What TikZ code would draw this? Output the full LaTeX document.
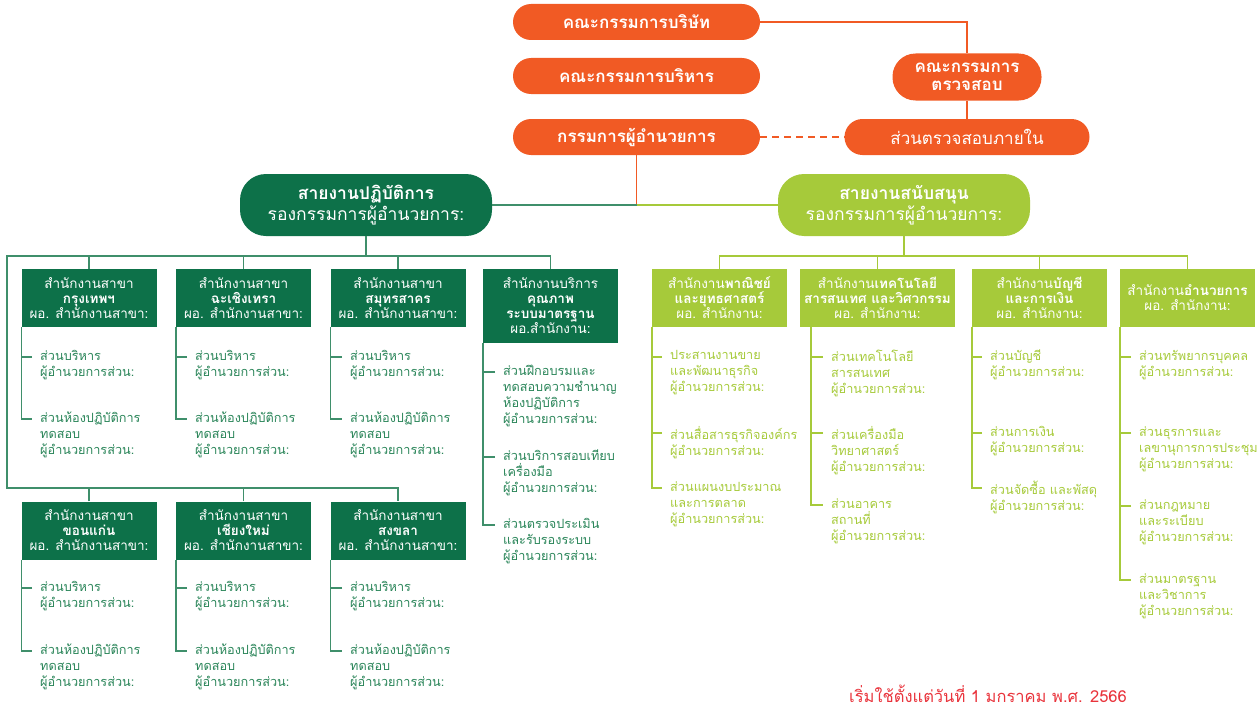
\documentclass[tikz,border=0pt]{standalone}
\usepackage{fontspec}
\setmainfont[Script=Thai]{Loma}
\usetikzlibrary{calc}
\definecolor{orng}{HTML}{F15A24}
\definecolor{dgreen}{HTML}{0D7149}
\definecolor{dline}{HTML}{3F8F6B}
\definecolor{dtext}{HTML}{2A8559}
\definecolor{lgreen}{HTML}{A6CA3A}
\definecolor{footred}{HTML}{E9343C}
\newcommand\tk[3]{\draw[#3] ($(#2.north west)+(-8,7)$) -- ($(#1 |- #2.north west)+(0,7)$);}
\newcommand\lastk[3]{\draw[#3] (#1) |- ($(#2.north west)+(-8,7)$);}
\begin{document}
\begin{tikzpicture}[x=1pt,y=-1pt,
  opill/.style={fill=orng, rounded corners=18pt, minimum height=36pt, minimum width=247pt, text=white, font=\fontsize{17}{19}\selectfont\bfseries, align=center, inner sep=2pt},
  gpill/.style={rounded corners=26pt, minimum height=62pt, minimum width=252pt, text=white, font=\fontsize{17.5}{21}\selectfont, align=center, inner sep=2pt},
  dbox/.style={fill=dgreen, text=white, minimum width=135pt, minimum height=58pt, font=\fontsize{13.5}{15}\selectfont, align=center, inner sep=2pt},
  lbox/.style={fill=lgreen, text=white, minimum width=135pt, minimum height=58pt, font=\fontsize{13.5}{15}\selectfont, align=center, inner sep=2pt},
  ditem/.style={text=dtext, font=\fontsize{12.7}{16}\selectfont, align=left, anchor=north west, inner sep=0pt, execute at begin node=\strut},
  litem/.style={text=lgreen, font=\fontsize{12.7}{16}\selectfont, align=left, anchor=north west, inner sep=0pt, execute at begin node=\strut},
  oline/.style={draw=orng, line width=1.5pt},
  dl/.style={draw=dline, line width=1.6pt},
  ll/.style={draw=lgreen, line width=1.6pt}]
\useasboundingbox (0,0) rectangle (1260,709);

% top
\node[opill] (board) at (636.5,22) {คณะกรรมการบริษัท};
\node[opill] (exec) at (636.5,76) {คณะกรรมการบริหาร};
\node[opill] (md) at (636.5,137) {กรรมการผู้อำนวยการ};
\node[opill, minimum width=149pt, minimum height=47pt, rounded corners=23pt, font=\fontsize{17}{18}\selectfont\bfseries] (audit) at (967,77) {คณะกรรมการ\\ตรวจสอบ};
\node[opill, minimum width=245pt, font=\fontsize{17}{19}\selectfont] (ia) at (967,137) {ส่วนตรวจสอบภายใน};
\draw[oline] (board.east) -| (audit.north);
\draw[oline] (audit.south) -- (ia.north);
\draw[oline, dash pattern=on 7pt off 5pt] (md.east) -- (ia.west);

\node[gpill, fill=dgreen] (ops) at (366,205) {\textbf{สายงานปฏิบัติการ}\\รองกรรมการผู้อำนวยการ:};
\node[gpill, fill=lgreen] (sup) at (904,205) {\textbf{สายงานสนับสนุน}\\รองกรรมการผู้อำนวยการ:};
\coordinate (j) at (636.5,205);
\draw[oline] (md.south) -- (j);
\draw[dl] (j) -- (ops.east);
\draw[ll] (j) -- (sup.west);

% left boxes
\node[dbox] (b1) at (89,298) {สำนักงานสาขา\\\textbf{กรุงเทพฯ}\\ผอ. สำนักงานสาขา:};
\node[dbox] (b2) at (243.5,298) {สำนักงานสาขา\\\textbf{ฉะเชิงเทรา}\\ผอ. สำนักงานสาขา:};
\node[dbox] (b3) at (398,298) {สำนักงานสาขา\\\textbf{สมุทรสาคร}\\ผอ. สำนักงานสาขา:};
\node[dbox, minimum height=74pt] (b4) at (550.5,306) {สำนักงานบริการ\\\textbf{คุณภาพ}\\\textbf{ระบบมาตรฐาน}\\ผอ.สำนักงาน:};
\node[dbox] (b5) at (89,530.5) {สำนักงานสาขา\\\textbf{ขอนแก่น}\\ผอ. สำนักงานสาขา:};
\node[dbox] (b6) at (243.5,530.5) {สำนักงานสาขา\\\textbf{เชียงใหม่}\\ผอ. สำนักงานสาขา:};
\node[dbox] (b7) at (398,530.5) {สำนักงานสาขา\\\textbf{สงขลา}\\ผอ. สำนักงานสาขา:};

\coordinate (lh) at (366,256);
\coordinate (lb) at (7,488);
\draw[dl] (ops.south) -- (lh);
\draw[dl] (b4.north) -- (b4.north |- lh) -| (lb) -| (b7.north);
\draw[dl] (b1.north) -- (b1.north |- lh);
\draw[dl] (b2.north) -- (b2.north |- lh);
\draw[dl] (b3.north) -- (b3.north |- lh);
\draw[dl] (b5.north) -- (b5.north |- lb);
\draw[dl] (b6.north) -- (b6.north |- lb);

% left items
\node[ditem] (k11) at (40,350) {ส่วนบริหาร\\ผู้อำนวยการส่วน:};
\node[ditem] (k12) at (40,412) {ส่วนห้องปฏิบัติการ\\ทดสอบ\\ผู้อำนวยการส่วน:};
\node[ditem] (k21) at (195,350) {ส่วนบริหาร\\ผู้อำนวยการส่วน:};
\node[ditem] (k22) at (195,412) {ส่วนห้องปฏิบัติการ\\ทดสอบ\\ผู้อำนวยการส่วน:};
\node[ditem] (k31) at (350,350) {ส่วนบริหาร\\ผู้อำนวยการส่วน:};
\node[ditem] (k32) at (350,412) {ส่วนห้องปฏิบัติการ\\ทดสอบ\\ผู้อำนวยการส่วน:};
\node[ditem] (k41) at (503,365) {ส่วนฝึกอบรมและ\\ทดสอบความชำนาญ\\ห้องปฏิบัติการ\\ผู้อำนวยการส่วน:};
\node[ditem] (k42) at (503,450) {ส่วนบริการสอบเทียบ\\เครื่องมือ\\ผู้อำนวยการส่วน:};
\node[ditem] (k43) at (503,518) {ส่วนตรวจประเมิน\\และรับรองระบบ\\ผู้อำนวยการส่วน:};
\node[ditem] (k51) at (40,581) {ส่วนบริหาร\\ผู้อำนวยการส่วน:};
\node[ditem] (k52) at (40,644) {ส่วนห้องปฏิบัติการ\\ทดสอบ\\ผู้อำนวยการส่วน:};
\node[ditem] (k61) at (195,581) {ส่วนบริหาร\\ผู้อำนวยการส่วน:};
\node[ditem] (k62) at (195,644) {ส่วนห้องปฏิบัติการ\\ทดสอบ\\ผู้อำนวยการส่วน:};
\node[ditem] (k71) at (350,581) {ส่วนบริหาร\\ผู้อำนวยการส่วน:};
\node[ditem] (k72) at (350,644) {ส่วนห้องปฏิบัติการ\\ทดสอบ\\ผู้อำนวยการส่วน:};

\tk{b1.south west}{k11}{dl} \lastk{b1.south west}{k12}{dl}
\tk{b2.south west}{k21}{dl} \lastk{b2.south west}{k22}{dl}
\tk{b3.south west}{k31}{dl} \lastk{b3.south west}{k32}{dl}
\tk{b4.south west}{k41}{dl} \tk{b4.south west}{k42}{dl} \lastk{b4.south west}{k43}{dl}
\tk{b5.south west}{k51}{dl} \lastk{b5.south west}{k52}{dl}
\tk{b6.south west}{k61}{dl} \lastk{b6.south west}{k62}{dl}
\tk{b7.south west}{k71}{dl} \lastk{b7.south west}{k72}{dl}

% right boxes
\node[lbox] (c1) at (719.5,298) {สำนักงาน\textbf{พาณิชย์}\\\textbf{และยุทธศาสตร์}\\ผอ. สำนักงาน:};
\node[lbox, minimum width=155pt] (c2) at (877.5,298) {สำนักงาน\textbf{เทคโนโลยี}\\\textbf{สารสนเทศ และวิศวกรรม}\\ผอ. สำนักงาน:};
\node[lbox] (c3) at (1039.5,298) {สำนักงาน\textbf{บัญชี}\\\textbf{และการเงิน}\\ผอ. สำนักงาน:};
\node[lbox] (c4) at (1187.5,298) {สำนักงาน\textbf{อำนวยการ}\\ผอ. สำนักงาน:};
\coordinate (rh) at (904,256);
\draw[ll] (sup.south) -- (rh);
\draw[ll] (c1.north) -- (c1.north |- rh) -| (c4.north);
\draw[ll] (c2.north) -- (c2.north |- rh);
\draw[ll] (c3.north) -- (c3.north |- rh);
\coordinate (c2v) at ($(c2.south west)+(11,0)$);

\node[litem] (m11) at (670,350) {ประสานงานขาย\\และพัฒนาธุรกิจ\\ผู้อำนวยการส่วน:};
\node[litem] (m12) at (670,426) {ส่วนสื่อสารธุรกิจองค์กร\\ผู้อำนวยการส่วน:};
\node[litem] (m13) at (670,481) {ส่วนแผนงบประมาณ\\และการตลาด\\ผู้อำนวยการส่วน:};
\node[litem] (m21) at (831,350) {ส่วนเทคโนโลยี\\สารสนเทศ\\ผู้อำนวยการส่วน:};
\node[litem] (m22) at (831,426) {ส่วนเครื่องมือ\\วิทยาศาสตร์\\ผู้อำนวยการส่วน:};
\node[litem] (m23) at (831,498) {ส่วนอาคาร\\สถานที่\\ผู้อำนวยการส่วน:};
\node[litem] (m31) at (990,350) {ส่วนบัญชี\\ผู้อำนวยการส่วน:};
\node[litem] (m32) at (990,426) {ส่วนการเงิน\\ผู้อำนวยการส่วน:};
\node[litem] (m33) at (990,481) {ส่วนจัดซื้อ และพัสดุ\\ผู้อำนวยการส่วน:};
\node[litem] (m41) at (1139,350) {ส่วนทรัพยากรบุคคล\\ผู้อำนวยการส่วน:};
\node[litem] (m42) at (1139,426) {ส่วนธุรการและ\\เลขานุการการประชุม\\ผู้อำนวยการส่วน:};
\node[litem] (m43) at (1139,499) {ส่วนกฎหมาย\\และระเบียบ\\ผู้อำนวยการส่วน:};
\node[litem] (m44) at (1139,573) {ส่วนมาตรฐาน\\และวิชาการ\\ผู้อำนวยการส่วน:};

\tk{c1.south west}{m11}{ll} \tk{c1.south west}{m12}{ll} \lastk{c1.south west}{m13}{ll}
\tk{c2v}{m21}{ll} \tk{c2v}{m22}{ll} \lastk{c2v}{m23}{ll}
\tk{c3.south west}{m31}{ll} \tk{c3.south west}{m32}{ll} \lastk{c3.south west}{m33}{ll}
\tk{c4.south west}{m41}{ll} \tk{c4.south west}{m42}{ll} \tk{c4.south west}{m43}{ll} \lastk{c4.south west}{m44}{ll}

\node[text=footred, font=\fontsize{16.5}{18}\selectfont, inner sep=1pt] (foot) at (988,694) {เริ่มใช้ตั้งแต่วันที่ 1 มกราคม พ.ศ. 2566};
\end{tikzpicture}
\end{document}
